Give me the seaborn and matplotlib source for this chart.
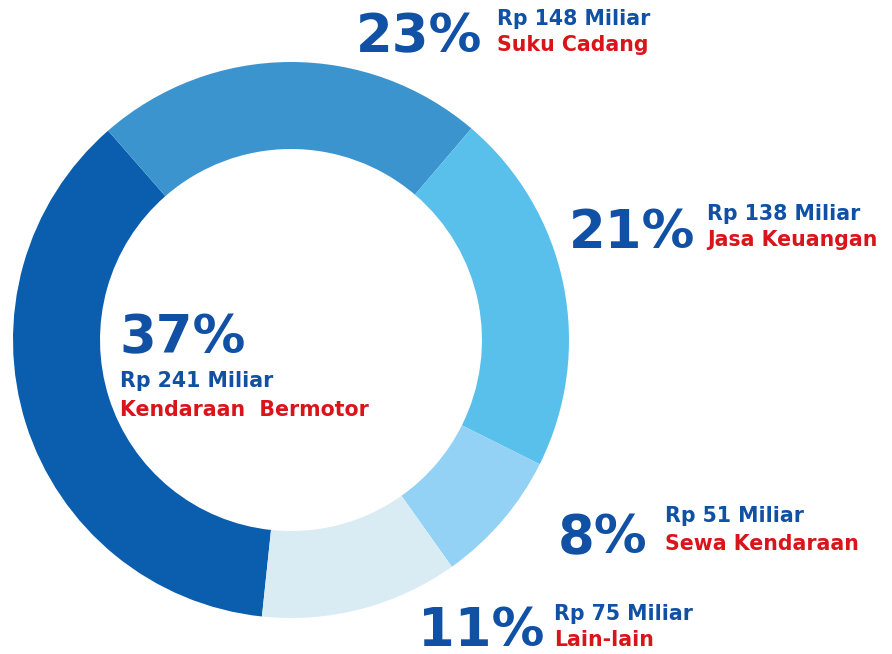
# Komposisi pendapatan per segmen usaha (donut)

import matplotlib
matplotlib.use("Agg")
import matplotlib.pyplot as plt
import seaborn as sns

# data
categories = ['Kendaraan  Bermotor', 'Suku Cadang', 'Jasa Keuangan', 'Sewa Kendaraan', 'Lain-lain']
values = [241, 148, 138, 51, 75]
amount_labels = ['Rp 241 Miliar', 'Rp 148 Miliar', 'Rp 138 Miliar', 'Rp 51 Miliar', 'Rp 75 Miliar']
colors = ['#0B5EAD', '#3C94CF', '#58C0EB', '#94D2F5', '#D9ECF4']

# posisi label (piksel: kiri, baseline) -> persen, nominal, nama
label_pos = {
    'Kendaraan  Bermotor': [(119, 353), (120, 387), (120, 416)],
    'Suku Cadang': [(356, 52), (497, 25), (497, 51)],
    'Jasa Keuangan': [(569, 248), (707, 220), (707, 246)],
    'Sewa Kendaraan': [(558, 553), (665, 522), (665, 550)],
    'Lain-lain': [(418, 646), (554, 620), (554, 646)],
}

sns.set_style("white")
plt.rcParams['font.family'] = ['DejaVu Sans']

W, H = 892, 654
fig = plt.figure(figsize=(W / 100, H / 100), dpi=100)
fig.patch.set_facecolor('white')

# lingkaran: pusat (291, 340) px, jari-jari 278 px
cx, cy, R = 291, 340, 278
ax = fig.add_axes([(cx - R) / W, (H - cy - R) / H, 2 * R / W, 2 * R / H])
ax.pie(values, colors=colors, startangle=264, counterclock=False, radius=1,
       wedgeprops=dict(width=0.313, edgecolor='none', linewidth=0, antialiased=True))
ax.set_xlim(-1, 1)
ax.set_ylim(-1, 1)
ax.set_aspect('equal')
ax.axis('off')

total = sum(values)
blue = '#1050A5'
red = '#D9151B'
for cat, val, amt in zip(categories, values, amount_labels):
    (px, py), (ax_, ay), (nx, ny) = label_pos[cat]
    pct = f"{val / total * 100:.0f}%"
    fig.text(px / W, 1 - py / H, pct, fontsize=38, fontweight='bold', color=blue,
             ha='left', va='baseline')
    fig.text(ax_ / W, 1 - ay / H, amt, fontsize=14.8, fontweight='bold', color=blue,
             ha='left', va='baseline')
    fig.text(nx / W, 1 - ny / H, cat, fontsize=14.8, fontweight='bold', color=red,
             ha='left', va='baseline')

fig.savefig('out.png', dpi=100, facecolor='white')
